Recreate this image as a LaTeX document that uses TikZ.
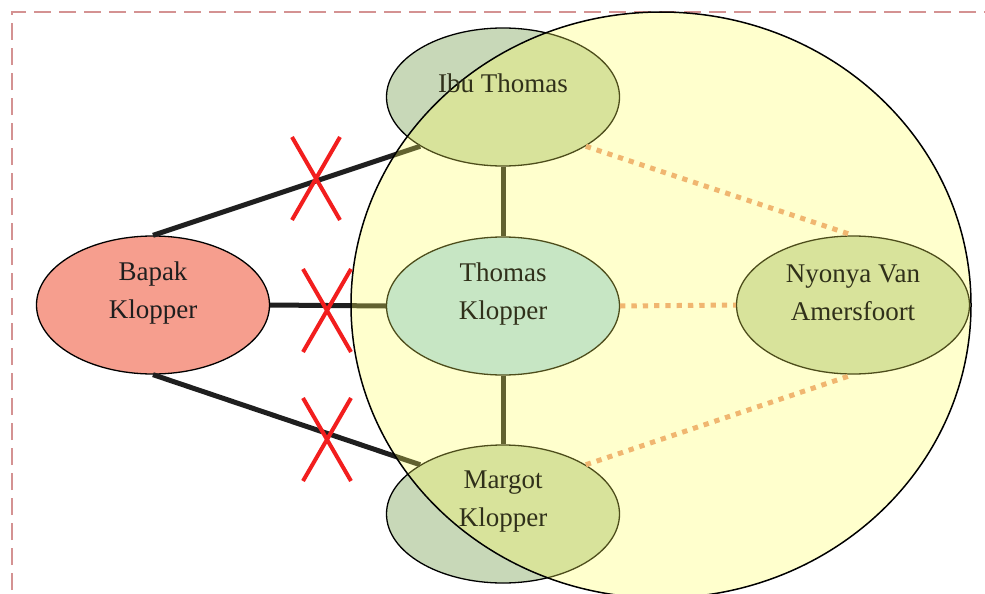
\documentclass[tikz,border=0pt]{standalone}
\usepackage{fontspec}
\setmainfont{Liberation Serif}
\usetikzlibrary{shapes.geometric}

\definecolor{nodegreen}{RGB}{200,216,184}
\definecolor{nodeblue}{RGB}{176,220,242}
\definecolor{salmonfill}{RGB}{246,158,142}
\definecolor{bigyellow}{RGB}{255,255,90}
\definecolor{dotorange}{RGB}{240,182,112}
\definecolor{xred}{RGB}{242,30,30}
\definecolor{framered}{RGB}{212,146,146}
\definecolor{textdark}{RGB}{30,30,30}
\definecolor{textolive}{RGB}{48,48,26}

\begin{document}
\begin{tikzpicture}[x=1pt,y=-1pt,
  ell/.style={ellipse, draw=black, line width=1.3pt, minimum width=233pt, minimum height=138pt, inner sep=0pt},
  lbl/.style={font=\fontsize{27}{38}\selectfont, align=center, inner sep=0pt, text=textdark},
  inlbl/.style={lbl, text=textolive},
  link/.style={line width=5pt, draw=black!88},
  dotlink/.style={line width=5pt, draw=dotorange, dash pattern=on 5.3pt off 6pt},
  crossline/.style={line width=4pt, draw=xred},
  groupring/.style={ellipse, draw=black, line width=1.5pt, fill=bigyellow, fill opacity=0.3, minimum width=620pt, minimum height=586pt, inner sep=0pt}]

\useasboundingbox (0,0) rectangle (985,594);
\clip (0,0) rectangle (985,594);

% frame
\draw[framered, line width=1.5pt, dash pattern=on 17pt off 8pt] (12,640) -- (12,12) -- (1040,12);

% nodes
\node[ell, fill=salmonfill] (bapak) at (153,305) {};
\node[ell, fill=nodegreen] (ibu) at (503,97) {};
\node[ell, fill=nodeblue] (thomas) at (503,306) {};
\node[ell, fill=nodegreen] (margot) at (503,514) {};
\node[ell, fill=nodegreen] (nyonya) at (853,305) {};

% solid connectors
\draw[link] (bapak.north) -- (ibu.south west);
\draw[link] (bapak.east) -- (thomas.west);
\draw[link] (bapak.south) -- (margot.north west);
\draw[link] (ibu.south) -- (thomas.north);
\draw[link] (thomas.south) -- (margot.north);

% big group circle
\node[groupring] (group) at (661,305) {};

% labels
\node[lbl] (bapakt) at ([yshift=12pt]bapak.center) {Bapak\\Klopper};
\node[inlbl] (ibut) at ([yshift=14pt]ibu.center) {Ibu Thomas};
\node[inlbl] (thomast) at ([yshift=12pt]thomas.center) {Thomas\\Klopper};
\node[inlbl] (margott) at ([yshift=12pt]margot.center) {Margot\\Klopper};
\node[inlbl] (nyonyat) at ([yshift=12pt]nyonya.center) {Nyonya Van\\Amersfoort};

% dotted connectors
\draw[dotlink] (ibu.south east) -- (nyonya.north);
\draw[dotlink] (thomas.east) -- (nyonya.west);
\draw[dotlink] (margot.north east) -- (nyonya.south);

% red crosses
\coordinate (x1) at (316,178.5);
\coordinate (x2) at (327,310.5);
\coordinate (x3) at (327,439.5);
\foreach \c in {x1,x2,x3}{
  \draw[crossline] ([shift={(-24,-41.5)}]\c) -- ([shift={(24,41.5)}]\c);
  \draw[crossline] ([shift={(24,-41.5)}]\c) -- ([shift={(-24,41.5)}]\c);
}
\end{tikzpicture}
\end{document}
